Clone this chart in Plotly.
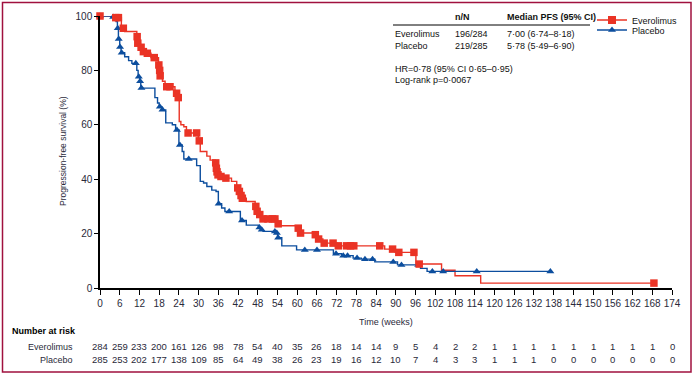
import plotly.graph_objects as go

# ---------------- data ----------------
evero_t = [0, 4.0, 6.5, 7.5, 11.2, 11.4, 12.3, 13.0, 14.0, 15.5, 17.8, 18.1, 18.2, 19.0, 19.8, 22.8, 23.6,
           24.1, 24.6, 25.5, 26.3, 29.9, 30.5, 32.5, 33.5, 35.1, 35.3, 35.5, 35.8, 36.5, 38.0, 40.0, 41.6,
           42.2, 42.8, 43.2, 44.5, 47.2, 47.6, 48.4, 49.3, 54.0, 54.6, 60.1, 60.8, 65.3, 66.3, 67.8, 72.2,
           86.6, 89.8, 96.1, 103.9, 108.0, 115.8, 168.5]
evero_s = [100, 99.4, 95.5, 94.3, 92.4, 90.0, 88.5, 86.9, 86.3, 84.7, 82.0, 80.0, 78.0, 76.0, 74.0, 71.6, 70.0,
           61.2, 60.0, 59.3, 57.0, 54.1, 50.2, 48.5, 47.0, 46.0, 44.0, 42.7, 41.6, 41.0, 40.4, 39.2, 36.8,
           35.5, 34.0, 33.0, 31.8, 30.0, 28.2, 27.0, 25.4, 23.6, 22.9, 22.0, 20.2, 19.6, 18.0, 16.5, 15.5,
           14.3, 13.1, 8.8, 6.5, 4.5, 1.8, 1.8]
evero_cens_t = [0, 4.8, 5.6, 7.1, 11.3, 11.5, 12.5, 13.2, 14.4, 16.5, 17.9, 18.15, 18.3, 20.3, 21.3, 23.3, 23.8,
                26.8, 29.4, 30.2, 35.2, 35.4, 35.6, 35.9, 36.8, 38.3, 41.9, 42.4, 42.9, 43.3, 47.4, 47.8, 48.6,
                49.6, 51.1, 52.5, 53.2, 54.2, 60.3, 61.0, 65.5, 66.5, 68.2, 70.9, 72.5, 75.0, 76.2, 77.2, 85.1,
                89.0, 90.9, 95.5, 97.1, 168.5]
evero_cens_s = [100, 99.4, 99.4, 95.5, 92.4, 90.0, 88.5, 86.9, 86.3, 84.7, 82.0, 80.0, 78.0, 74.0, 74.0, 71.6, 70.0,
                57.0, 57.0, 54.1, 46.0, 44.0, 42.7, 41.6, 41.0, 40.4, 36.8, 35.5, 34.0, 33.0, 30.0, 28.2, 27.0,
                25.4, 25.4, 25.4, 25.4, 23.6, 22.0, 20.2, 19.6, 18.0, 16.5, 16.5, 15.5, 15.5, 15.5, 15.5, 15.5,
                14.3, 13.1, 13.1, 8.8, 1.8]

plac_t = [0, 3.5, 4.9, 5.3, 5.6, 6.0, 6.4, 7.5, 8.7, 9.7, 11.2, 11.6, 12.1, 12.4, 16.7, 17.5, 18.0, 18.8, 20.0,
          22.0, 23.0, 24.0, 25.0, 25.5, 29.4, 30.5, 31.5, 32.5, 34.0, 35.3, 36.0, 37.0, 38.0, 42.7, 44.5, 48.2,
          49.0, 49.6, 53.6, 54.0, 55.3, 59.8, 71.0, 73.5, 77.0, 79.5, 83.6, 90.5, 97.5, 99.5, 137.0]
plac_s = [100, 99.6, 98.0, 95.5, 91.5, 88.6, 86.5, 85.0, 83.6, 82.6, 80.0, 77.7, 76.0, 73.5, 70.0, 68.0, 66.6, 65.5, 60.7,
          60.0, 58.1, 52.6, 50.2, 47.4, 45.0, 39.2, 38.6, 37.3, 36.0, 35.5, 31.0, 29.4, 28.1, 24.8, 23.1, 22.2,
          21.4, 20.8, 20.2, 18.5, 15.5, 14.0, 12.6, 11.9, 11.0, 10.6, 9.6, 8.5, 7.2, 6.1, 6.1]
plac_cens_t = [0, 4.0, 5.4, 5.7, 6.1, 6.6, 10.9, 11.8, 12.2, 12.6, 18.2, 19.0, 23.4, 24.3, 27.0, 36.1, 39.3, 43.2,
               48.5, 49.2, 53.2, 53.8, 54.2, 62.3, 66.0, 71.8, 74.0, 75.3, 78.2, 80.6, 82.9, 89.2, 91.7, 96.8,
               101.1, 104.4, 114.6, 137.0]
plac_cens_s = [100, 99.6, 95.5, 91.5, 88.6, 86.5, 82.6, 77.7, 76.0, 73.5, 66.6, 65.5, 58.1, 52.6, 47.4, 31.0, 28.1, 24.8,
               22.2, 21.4, 20.8, 20.2, 18.5, 14.0, 14.0, 12.6, 11.9, 11.9, 11.0, 10.6, 10.6, 9.6, 8.5, 8.5,
               6.1, 6.1, 6.1, 6.1]

risk_weeks = list(range(0, 175, 6))
risk_evero = [284, 259, 233, 200, 161, 126, 98, 78, 54, 40, 35, 26, 18, 14, 14, 9, 5, 4, 2, 2, 1, 1, 1, 1, 1, 1, 1, 1, 1, 0]
risk_plac = [285, 253, 202, 177, 138, 109, 85, 64, 49, 38, 26, 23, 19, 16, 12, 10, 7, 4, 3, 3, 1, 1, 1, 0, 0, 0, 0, 0, 0, 0]

y_ticks = [0, 20, 40, 60, 80, 100]

RED = "#ea3325"
BLUE = "#0c4e9e"
TXT = "#2a2a3a"
FONT = "Liberation Sans, Arial, sans-serif"

W, H = 695, 377
L, R, T, B = 100, 23, 16, 89
PW, PH = W - L - R, H - T - B


def px(x):
    return (x - L) / PW


def py(y):
    return (H - B - y) / PH


fig = go.Figure()
fig.add_trace(go.Scatter(x=evero_t, y=evero_s, mode="lines", line=dict(color=RED, width=1.4, shape="hv"),
                         showlegend=False, hoverinfo="skip"))
fig.add_trace(go.Scatter(x=plac_t, y=plac_s, mode="lines", line=dict(color=BLUE, width=1.4, shape="hv"),
                         showlegend=False, hoverinfo="skip"))
fig.add_trace(go.Scatter(x=plac_cens_t, y=plac_cens_s, mode="markers",
                         marker=dict(symbol="triangle-up", size=7, color=BLUE), showlegend=False,
                         cliponaxis=False))
fig.add_trace(go.Scatter(x=evero_cens_t, y=evero_cens_s, mode="markers",
                         marker=dict(symbol="square", size=7.5, color=RED), showlegend=False,
                         cliponaxis=False))
# legend entries
fig.add_trace(go.Scatter(x=[None], y=[None], mode="lines+markers", name="Everolimus", legend="legend",
                         line=dict(color=RED, width=1.4), marker=dict(symbol="square", size=8, color=RED)))
fig.add_trace(go.Scatter(x=[None], y=[None], mode="lines+markers", name="Placebo", legend="legend2",
                         line=dict(color=BLUE, width=1.4), marker=dict(symbol="triangle-up", size=7, color=BLUE)))

ann = []
# number at risk table
ann.append(dict(text="<b>Number at risk</b>", x=px(10), y=py(331), xref="paper", yref="paper",
                xanchor="left", yanchor="middle", showarrow=False, font=dict(family=FONT, size=9, color="#000")))
ann.append(dict(text="Everolimus", x=px(75), y=py(346.5), xref="paper", yref="paper",
                xanchor="right", yanchor="middle", showarrow=False, font=dict(family=FONT, size=9, color=TXT)))
ann.append(dict(text="Placebo", x=px(75), y=py(359.5), xref="paper", yref="paper",
                xanchor="right", yanchor="middle", showarrow=False, font=dict(family=FONT, size=9, color=TXT)))
for wk, a, b in zip(risk_weeks, risk_evero, risk_plac):
    ann.append(dict(text=str(a), x=wk, y=py(346.5), xref="x", yref="paper", xanchor="center",
                    yanchor="middle", showarrow=False, font=dict(family=FONT, size=9.5, color=TXT)))
    ann.append(dict(text=str(b), x=wk, y=py(359.5), xref="x", yref="paper", xanchor="center",
                    yanchor="middle", showarrow=False, font=dict(family=FONT, size=9.5, color=TXT)))

ann.append(dict(text="Time (weeks)", x=0.5, y=py(322), xref="paper", yref="paper", xanchor="center",
                yanchor="middle", showarrow=False, font=dict(family=FONT, size=9, color=TXT)))
ann.append(dict(text="Progression-free survival (%)", x=px(63), y=py(151), xref="paper", yref="paper",
                textangle=-90, xanchor="center", yanchor="middle", showarrow=False,
                font=dict(family=FONT, size=8.5, color=TXT)))


# top-right summary table
def tx(text, x, y, bold=False):
    t = f"<b>{text}</b>" if bold else text
    ann.append(dict(text=t, x=px(x), y=py(y), xref="paper", yref="paper", xanchor="left",
                    yanchor="middle", showarrow=False, font=dict(family=FONT, size=9, color="#111")))


tx("n/N", 453, 17, True)
tx("Median PFS (95% CI)", 505, 17, True)
tx("Everolimus", 393, 33.5)
tx("196/284", 453, 33.5)
tx("7·00 (6·74–8·18)", 505, 33.5)
tx("Placebo", 393, 46)
tx("219/285", 453, 46)
tx("5·78 (5·49–6·90)", 505, 46)
tx("HR=0·78 (95% CI 0·65–0·95)", 393, 69)
tx("Log-rank p=0·0067", 393, 80)

shapes = [
    dict(type="line", xref="paper", yref="paper", x0=px(393), x1=px(590), y0=py(25), y1=py(25),
         line=dict(color="#000", width=1)),
    dict(type="rect", xref="paper", yref="paper", x0=px(2.5), x1=px(691), y0=py(372), y1=py(2.5),
         line=dict(color="#a0103e", width=1.5), layer="below"),
]

leg_common = dict(xanchor="left", yanchor="top", xref="paper", yref="paper",
                  font=dict(family=FONT, size=9, color="#111"), bgcolor="rgba(0,0,0,0)",
                  itemwidth=30, borderwidth=0)

fig.update_layout(
    width=W, height=H, margin=dict(l=L, r=R, t=T, b=B, autoexpand=False),
    paper_bgcolor="white", plot_bgcolor="white",
    annotations=ann, shapes=shapes,
    legend=dict(x=px(592), y=py(5.5), **leg_common),
    legend2=dict(x=px(592), y=py(15.5), **leg_common),
    xaxis=dict(range=[0, 174], tickvals=risk_weeks, ticktext=[str(v) for v in risk_weeks],
               showgrid=False, zeroline=False, showline=True, linecolor="#000", linewidth=1.5,
               ticks="outside", ticklen=5, tickwidth=1.2, tickcolor="#000", automargin=False,
               tickfont=dict(family=FONT, size=10, color=TXT)),
    yaxis=dict(range=[0, 100], tickvals=y_ticks, showgrid=False, zeroline=False, showline=True,
               linecolor="#000", linewidth=1.5, ticks="outside", ticklen=4, tickwidth=1.2,
               tickcolor="#000", automargin=False, tickfont=dict(family=FONT, size=10, color=TXT)),
)

fig.write_html("out.html", config={"displayModeBar": False},
               post_script="document.body.style.margin='0';document.body.style.padding='0';")
